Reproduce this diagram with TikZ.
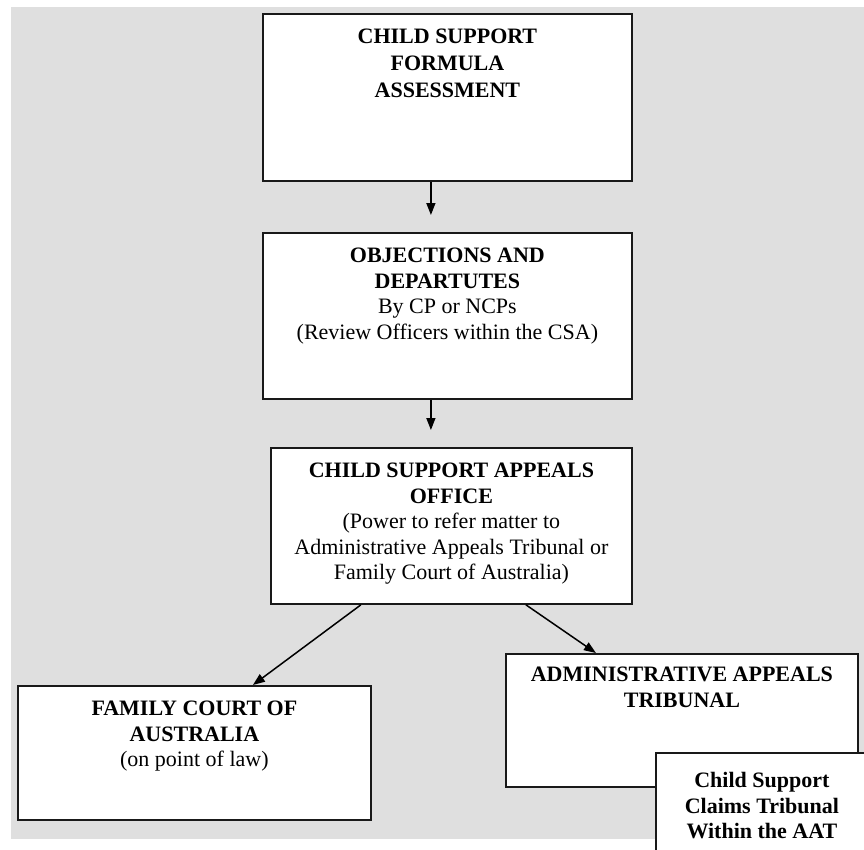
\documentclass[tikz,border=0pt]{standalone}
\usepackage{fontspec}
\setmainfont{Liberation Serif}
\usetikzlibrary{arrows.meta}
\definecolor{bggray}{RGB}{223,223,223}
\tikzstyle{stagebox} = [draw=black!90, line width=1.8pt, fill=white, inner sep=0pt, anchor=north west, font=\fontsize{22}{25.5}\selectfont]
\tikzstyle{flow} = [-{Triangle[length=12pt,width=9pt]}, line width=1.5pt]
\newcommand{\boxtext}[4][30pt]{\parbox[t][#3][t]{#2}{\centering\rule{0pt}{#1}#4}}

\begin{document}
\begin{tikzpicture}[x=1pt,y=-1pt]
\useasboundingbox (0,0) rectangle (864,849);
\clip (0,0) rectangle (864,849);
\fill[bggray] (11,7) rectangle (864,839);
\node[stagebox] (assess) at (262,13) {\boxtext{369pt}{167pt}{\bfseries CHILD SUPPORT\\[1.5pt]FORMULA\\[1.5pt]ASSESSMENT}};
\node[stagebox] (object) at (262,232) {\boxtext{369pt}{166pt}{{\bfseries OBJECTIONS AND\\DEPARTUTES}\\By CP or NCPs\\(Review Officers within the CSA)}};
\node[stagebox] (csao) at (270,447) {\boxtext{361pt}{156pt}{{\bfseries CHILD SUPPORT APPEALS\\OFFICE}\\(Power to refer matter to\\Administrative Appeals Tribunal or\\Family Court of Australia)}};
\node[stagebox] (family) at (17,685) {\boxtext{353pt}{134pt}{{\bfseries FAMILY COURT OF\\AUSTRALIA}\\(on point of law)}};
\node[stagebox] (aat) at (505,653) {\boxtext[28pt]{352pt}{133pt}{\bfseries ADMINISTRATIVE APPEALS\\TRIBUNAL}};
\node[stagebox] (claims) at (655,752) {\boxtext[35pt]{212pt}{110pt}{\bfseries Child Support\\Claims Tribunal\\Within the AAT}};
\draw[flow] ([xshift=-16.5pt]assess.south) -- ([xshift=-16.5pt,yshift=17pt]object.north);
\draw[flow] ([xshift=-16.5pt]object.south) -- ([xshift=-20.5pt,yshift=17pt]csao.north);
\draw[flow] ([xshift=-90.5pt]csao.south) -- ([xshift=58.5pt]family.north);
\draw[flow] ([xshift=74.5pt]csao.south) -- ([xshift=-86pt]aat.north);
\end{tikzpicture}
\end{document}
